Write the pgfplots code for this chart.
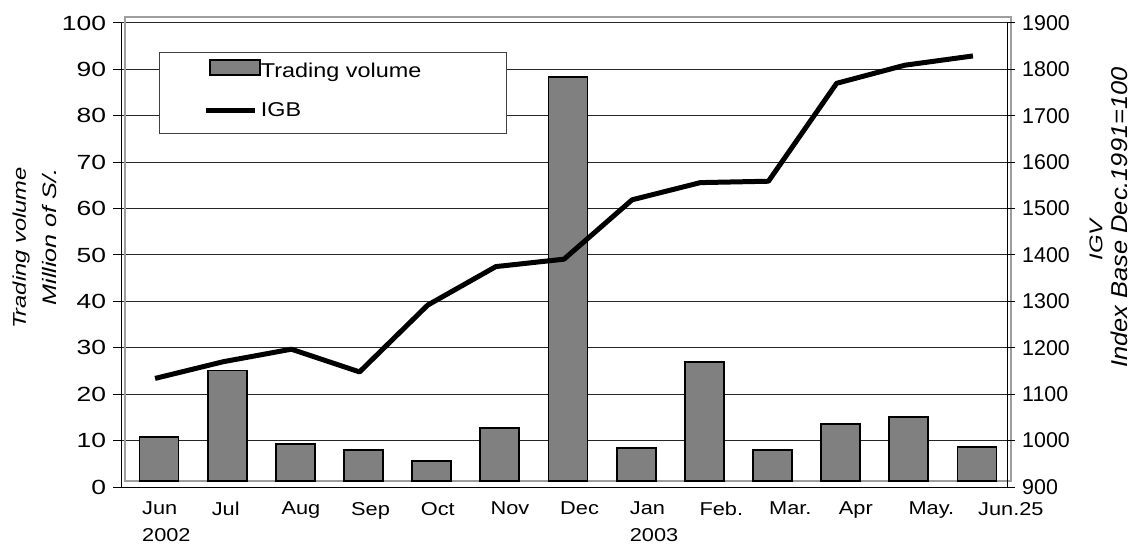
\documentclass[border=0pt]{standalone}
\usepackage{pgfplots}
\usepackage{pgfplotstable}
\pgfplotsset{compat=1.18}
\usepackage{fontspec}
\setmainfont{Liberation Sans}
% width-adjusted variants of the same face
\newfontfamily\wideA{Liberation Sans}[FakeStretch=1.29]
\newfontfamily\wideB{Liberation Sans}[FakeStretch=1.17]
\newfontfamily\wideC{Liberation Sans}[FakeStretch=1.11]

\definecolor{barfill}{gray}{0.5}
\definecolor{framegray}{gray}{0.62}

% monthly trading volume (million S/.) and index level
\pgfplotstableread{
idx volume igb
0  9.55 1134
1  23.8 1170
2  7.97 1197
3  6.68 1148
4  4.31 1292
5  11.4 1375
6  87.0 1391
7  7.11 1519
8  25.7 1556
9  6.68 1559
10 12.2 1770
11 13.8 1809
12 7.4  1829
}\datatable

\begin{document}
\begin{tikzpicture}
\useasboundingbox (0,0) rectangle (1130pt,544pt);

% left scale: grid, ticks and legend
\begin{axis}[
  at={(121pt,57pt)}, anchor=south west,
  scale only axis, width=886pt, height=464pt,
  xmin=-0.5, xmax=12.5, ymin=0, ymax=100,
  axis x line*=bottom, axis y line*=left,
  xtick=\empty,
  ytick={0,10,...,100},
  ymajorgrids, grid style={black!85, line width=1pt},
  axis line style={black, line width=1pt},
  tick style={black, line width=1pt},
  tick align=outside, major tick length=8pt,
  /pgf/number format/assume math mode=true,
  yticklabel style={font=\wideA\fontsize{20.5}{24}\selectfont, inner sep=0pt, xshift=-6.7pt},
  legend cell align=left,
  legend style={at={(0.0429,0.9375)}, anchor=north west,
    draw=black!75, line width=1.2pt, fill=white,
    inner xsep=44pt, inner ysep=5pt,
    font=\wideB\fontsize{20}{24}\selectfont,
    row sep=7.3pt, column sep=0pt,
    nodes={inner sep=0pt, text height=15pt, text depth=5pt},
    /tikz/every even column/.append style={text width=202pt}},
]
\addlegendimage{legend image code/.code={
  \path[draw=none, fill=none] (0pt,-17pt) rectangle (54pt,15pt);
  \draw[fill=barfill, draw=black, line width=1.5pt] (4pt,-2.3pt) rectangle (54pt,12.7pt);}}
\addlegendentry{Trading volume}
\addlegendimage{legend image code/.code={
  \path[draw=none, fill=none] (0pt,-17pt) rectangle (54pt,15pt);
  \draw[black, line width=5pt] (0pt,1.7pt) -- (49pt,1.7pt);}}
\addlegendentry{IGB}
\end{axis}

% bars in their own frame
\begin{axis}[
  at={(125pt,63pt)}, anchor=south west,
  scale only axis, width=886pt, height=464pt,
  xmin=-0.5, xmax=12.5, ymin=0, ymax=100,
  axis line style={framegray, line width=1.5pt},
  xtick=\empty, ytick=\empty,
  ybar, bar width=39pt,
]
\addplot[fill=barfill, draw=black, line width=1.8pt] table[x=idx, y=volume]{\datatable};
\end{axis}

% right scale: index line
\begin{axis}[
  at={(121pt,57pt)}, anchor=south west,
  scale only axis, width=886pt, height=464pt,
  xmin=-0.5, xmax=12.5, ymin=900, ymax=1900,
  axis x line=none, axis y line*=right,
  ytick={900,1000,...,1900},
  scaled y ticks=false,
  axis line style={black, line width=1pt},
  tick style={black, line width=1pt},
  tick align=outside, major tick length=8pt,
  /pgf/number format/assume math mode=true,
  /pgf/number format/1000 sep={},
  yticklabel style={font=\fontsize{21.4}{25}\selectfont, inner sep=0pt, xshift=7pt},
]
\addplot[black, line width=5pt, line join=round] table[x=idx, y=igb]{\datatable};
\end{axis}

% month labels
\begin{axis}[
  at={(121pt,57pt)}, anchor=south west,
  scale only axis, width=886pt, height=464pt,
  xmin=-0.3014, xmax=12.416, ymin=0, ymax=1,
  axis y line=none, axis x line*=bottom,
  x axis line style={draw=none}, xtick style={draw=none},
  major tick length=0pt,
  xtick={0,1,...,12},
  xticklabels={{Jun\\2002},Jul,Aug,Sep,Oct,Nov,Dec,{Jan\\2003},Feb.,Mar.,Apr,May.,Jun.25},
  xticklabel style={anchor=north west, align=left, inner sep=0pt, yshift=-15pt,
    font=\wideB\fontsize{18.6}{26.7}\selectfont},
]
\addplot[draw=none] coordinates {(0,0)};
\end{axis}

\node[rotate=90, font=\wideA\itshape\fontsize{18.4}{22}\selectfont] at (21pt,296pt) {Trading volume};
\node[rotate=90, font=\wideA\itshape\fontsize{19.5}{23}\selectfont] at (49.5pt,307pt) {Million of S/.};
\node[rotate=90, font=\wideA\itshape\fontsize{18.5}{22}\selectfont] at (1096pt,304pt) {IGV};
\node[rotate=90, font=\wideC\itshape\fontsize{22.9}{27}\selectfont] at (1119pt,326.5pt) {Index Base Dec.1991=100};
\end{tikzpicture}
\end{document}
